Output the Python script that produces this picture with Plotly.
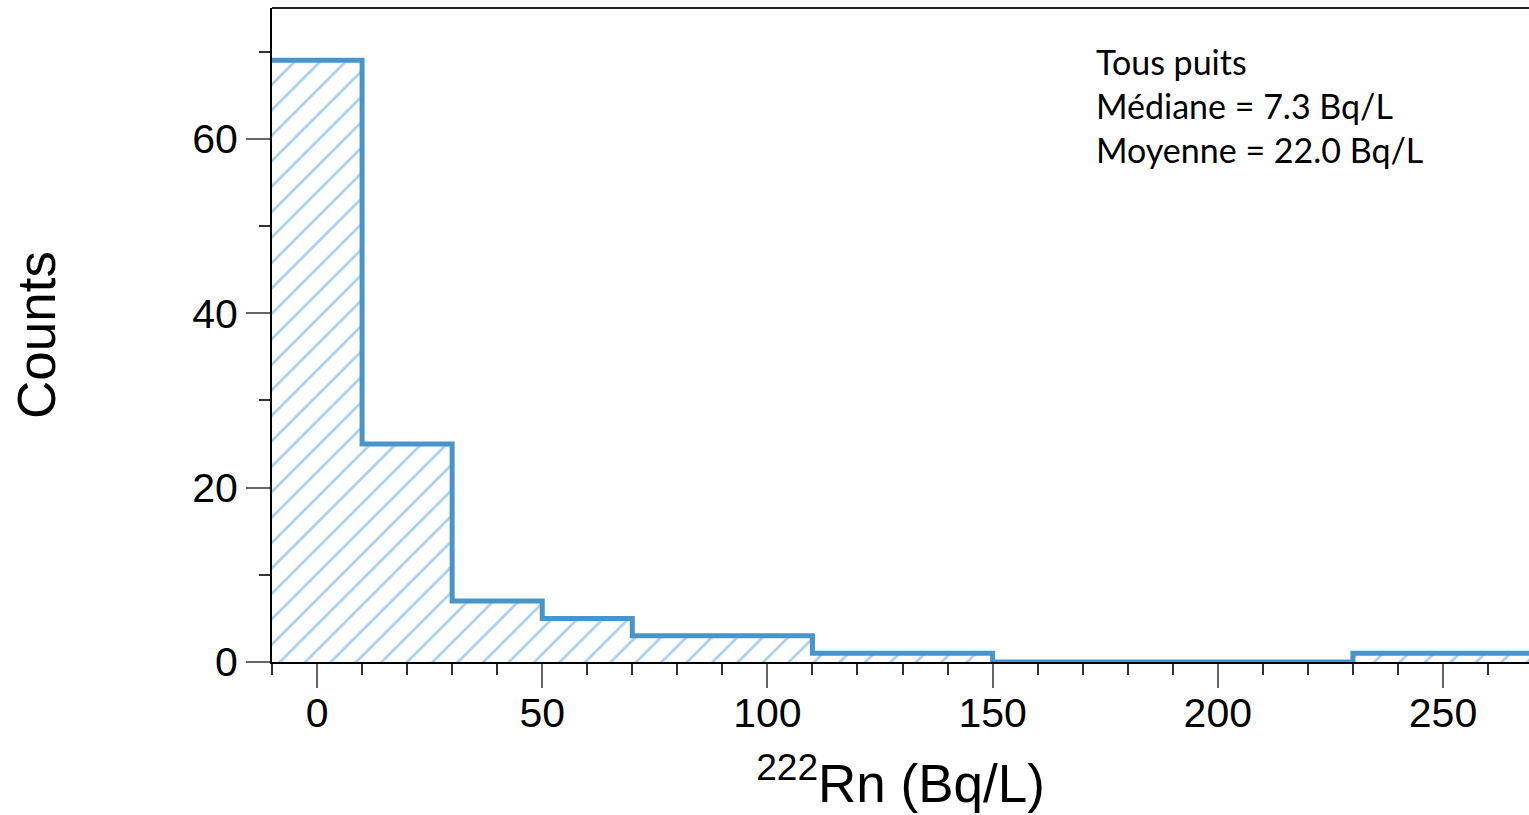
import plotly.graph_objects as go

# Data
bin_edges = [-10, 10, 30, 50, 70, 110, 150, 230, 270]
counts = [69, 25, 7, 5, 3, 1, 0, 1]
x_ticks = [0, 50, 100, 150, 200, 250]
y_ticks = [0, 20, 40, 60]
stats_lines = ["Tous puits", "Médiane = 7.3 Bq/L", "Moyenne = 22.0 Bq/L"]

step_x = bin_edges
step_y = counts + [counts[-1]]

outline = "#4896c9"
hatch = "#529fd4"

fig = go.Figure()
fig.add_trace(go.Scatter(
    x=step_x, y=step_y, mode="lines", line_shape="hv",
    line=dict(color=outline, width=5),
    fill="tozeroy", fillcolor="rgba(0,0,0,0)",
    fillpattern=dict(shape="/", fgcolor=hatch, bgcolor="white", size=18, solidity=0.15),
    showlegend=False, hoverinfo="skip",
))

tick_font = dict(family="Liberation Sans, Arial, sans-serif", size=41, color="black")

fig.update_layout(
    width=1529, height=815,
    margin=dict(l=272, r=0, t=8, b=153, autoexpand=False),
    paper_bgcolor="white", plot_bgcolor="white",
    xaxis=dict(
        range=[-10, 269.1], tickvals=x_ticks, ticks="outside", ticklen=24, tickwidth=2,
        tickcolor="#666", showline=True, linecolor="black", linewidth=2,
        showgrid=False, zeroline=False, tickfont=tick_font, ticklabelstandoff=-10,
        minor=dict(dtick=10, tick0=0, ticks="outside", ticklen=11, tickwidth=2, tickcolor="#333", showgrid=False),
        title=dict(text="<sup>222</sup>Rn (Bq/L)", standoff=30,
                   font=dict(family="Liberation Sans, Arial, sans-serif", size=53, color="black")),
        automargin=False,
    ),
    yaxis=dict(
        range=[0, 75], tickvals=y_ticks, ticks="outside", ticklen=24, tickwidth=2,
        tickcolor="#666", showline=True, linecolor="black", linewidth=2,
        showgrid=False, zeroline=False, tickfont=tick_font,
        minor=dict(dtick=10, tick0=10, ticks="outside", ticklen=11, tickwidth=2, tickcolor="#333", showgrid=False),
        title=dict(text="Counts", standoff=120,
                   font=dict(family="Liberation Sans, Arial, sans-serif", size=53, color="black")),
        automargin=False,
    ),
    shapes=[dict(type="line", xref="paper", yref="paper", x0=0, x1=1, y0=1, y1=1,
                 line=dict(color="#222", width=2))],
    annotations=[dict(
        text="<br>".join(stats_lines), xref="x", yref="paper", x=172.5, y=0.952,
        xanchor="left", yanchor="top", align="left", showarrow=False,
        font=dict(family="Lato, sans-serif", size=34, color="black"),
    )],
)

fig.write_html("out.html")
